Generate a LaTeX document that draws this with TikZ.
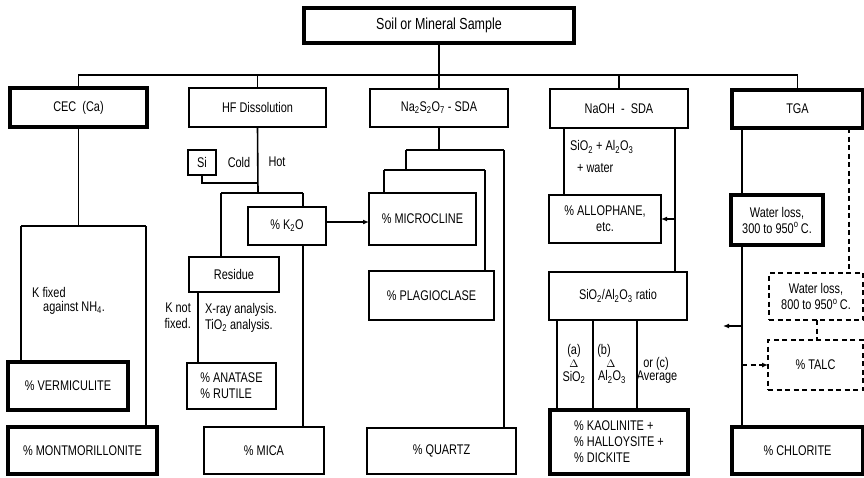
\documentclass[tikz,border=0pt]{standalone}
\usepackage{fontspec}
\setmainfont{Liberation Sans}[FakeStretch=0.78]
\usetikzlibrary{arrows.meta}
\newcommand\sub[1]{\textsubscript{#1}}
\newcommand\boxnode[7]{\node[#1, minimum width={#4-#2}, minimum height={#5-#3}] (#6) at ({(#2+#4)/2},{(#3+#5)/2}) {#7};}
\tikzset{
  txt/.style={font=\fontsize{14}{16}\selectfont},
  base/.style={draw, txt, inner sep=1pt, outer sep=0pt, align=center},
  lightbox/.style={base, line width=1.6pt},
  heavybox/.style={base, line width=3.2pt},
  dashbox/.style={base, line width=1.6pt, dash pattern=on 5pt off 3.5pt},
  conn/.style={line width=1.6pt},
  dashconn/.style={line width=1.6pt, dash pattern=on 5pt off 3.5pt},
  arr/.style={conn, -{Latex[length=6pt,width=5pt]}},
  dasharr/.style={dashconn, -{Latex[length=6pt,width=5pt]}},
  lbl/.style={txt, inner sep=0pt}
}
\begin{document}
\begin{tikzpicture}[x=1pt,y=-1pt]
\useasboundingbox (0,0) rectangle (864,477);
% level 1
\boxnode{heavybox,font=\fontsize{16}{18}\selectfont}{304}{8}{574}{43}{soil}{Soil or Mineral Sample}
% level 2
\boxnode{heavybox}{10}{88}{147}{127}{cec}{CEC\ \ (Ca)}
\boxnode{lightbox}{189}{88}{326}{127}{hf}{HF Dissolution}
\boxnode{lightbox}{370}{89}{508}{127}{nas}{Na\sub{2}S\sub{2}O\sub{7} - SDA}
\boxnode{lightbox}{550}{89}{688}{128}{naoh}{NaOH\ \ -\ \ SDA}
\boxnode{heavybox}{732}{90}{863}{128}{tga}{TGA}
% CEC column
\boxnode{heavybox}{8}{362}{128}{410}{verm}{\% VERMICULITE}
\boxnode{heavybox}{8}{427}{157}{474}{mont}{\% MONTMORILLONITE}
% HF column
\boxnode{lightbox,line width=2pt,inner sep=0pt}{188}{150}{216}{175}{si}{Si}
\boxnode{lightbox}{248}{207}{326}{245}{k2o}{\% K\sub{2}O}
\boxnode{lightbox}{189}{257}{279}{292}{res}{Residue}
\boxnode{lightbox,align=left}{187}{363}{276}{409}{anat}{\% ANATASE\\\% RUTILE}
\boxnode{lightbox}{204}{427}{324}{474}{mica}{\% MICA}
% Na2S2O7 column
\boxnode{lightbox}{369}{193}{476}{245}{micro}{\% MICROCLINE}
\boxnode{lightbox}{369}{271}{494}{320}{plag}{\% PLAGIOCLASE}
\boxnode{lightbox}{367}{428}{516}{474}{quartz}{\% QUARTZ}
% NaOH column
\boxnode{lightbox}{549}{195}{661}{243}{allo}{\% ALLOPHANE,\\etc.}
\boxnode{lightbox}{549}{272}{687}{320}{ratio}{SiO\sub{2}/Al\sub{2}O\sub{3} ratio}
\boxnode{heavybox,align=left}{550}{410}{688}{474}{kao}{\% KAOLINITE +\\\% HALLOYSITE +\\\% DICKITE}
% TGA column
\boxnode{heavybox}{731}{195}{823}{245}{wl1}{Water loss,\\300 to 950\textsuperscript{o}\,C.}
\boxnode{dashbox}{769}{273}{863}{320}{wl2}{Water loss,\\800 to 950\textsuperscript{o}\,C.}
\boxnode{dashbox}{768}{340}{863}{390}{talc}{\% TALC}
\boxnode{heavybox}{732}{427}{863}{474}{chlor}{\% CHLORITE}

% bus
\coordinate (bus) at (0,75);
\draw[conn] (cec.north) -- (cec.north |- bus) -- (tga.north |- bus) -- (tga.north);
\draw[conn] (hf.north) -- (hf.north |- bus);
\draw[conn] (naoh.north) -- (naoh.north |- bus);
\draw[conn] (soil.south) -- (nas.north);

% CEC fork
\coordinate (cfl) at (21,226);
\coordinate (cfr) at (146,226);
\draw[conn] (cec.south) -- (cec.south |- cfl);
\draw[conn] (cfl) -- (cfr);
\draw[conn] (cfl) -- (cfl |- verm.north);
\draw[conn] (cfr) -- (cfr |- mont.north);
\node[lbl, anchor=west] (lkf) at (32,292) {K fixed};
\node[lbl, anchor=west] (lag) at (43,308) {against NH\sub{4}.};
\node[lbl, anchor=east, align=right] (lkn) at (191,316) {K not\\fixed.};

% HF
\coordinate (hj1) at (258,183);
\coordinate (hj2) at (258,193);
\coordinate (hl) at (221,193);
\coordinate (hr) at (303,193);
\coordinate (rx) at (198,0);
\draw[conn] (hf.south) -- (hj2);
\draw[conn] (hj1) -| (si.south);
\draw[conn] (hl) -- (hr);
\draw[conn] (hr) -- (hr |- k2o.north);
\draw[conn] (hl) -- (hl |- res.north);
\draw[conn] (hr |- k2o.south) -- (hr |- mica.north);
\draw[conn] (rx |- res.south) -- (rx |- anat.north);
\node[lbl] (lcold) at (239,162) {Cold};
\node[lbl] (lhot) at (277,162) {Hot};
\node[lbl, anchor=west, align=left] (lxr) at (205,318) {X-ray analysis.\\TiO\sub{2} analysis.};

% Na2S2O7
\coordinate (n1) at (406,150);
\coordinate (n2) at (504,150);
\coordinate (n3) at (384,170);
\coordinate (n4) at (485,170);
\draw[conn] (nas.south) -- (nas.south |- n1);
\draw[conn] (n1) -- (n2);
\draw[conn] (n1) -- (n1 |- n3);
\draw[conn] (n3) -- (n4);
\draw[conn] (n3) -- (n3 |- micro.north);
\draw[conn] (n4) -- (n4 |- plag.north);
\draw[conn] (n2) -- (n2 |- quartz.north);
\coordinate (ay) at (0,222);
\draw[arr] (k2o.east |- ay) -- (micro.west |- ay);

% NaOH
\coordinate (o1) at (564,0);
\coordinate (o2) at (675,0);
\draw[conn] (o1 |- naoh.south) -- (o1 |- allo.north);
\draw[conn] (o2 |- naoh.south) -- (o2 |- ratio.north);
\draw[arr] (o2 |- allo.east) -- (allo.east);
\node[lbl, anchor=west] (lsa) at (570,147) {SiO\sub{2} + Al\sub{2}O\sub{3}};
\node[lbl, anchor=west] (lw) at (577,168) {+ water};
\foreach \x in {557,593,637} \draw[conn] (\x,0 |- ratio.south) -- (\x,0 |- kao.north);
\node[lbl] (la1) at (574,351) {(a)};
\node[lbl,font=\fontsize{11}{12}\selectfont] (la2) at (574,364) {$\Delta$};
\node[lbl] (la3) at (574,377) {SiO\sub{2}};
\node[lbl] (lb1) at (604,351) {(b)};
\node[lbl,font=\fontsize{11}{12}\selectfont] (lb2) at (611,364) {$\Delta$};
\node[lbl] (lb3) at (612,377) {Al\sub{2}O\sub{3}};
\node[lbl] (lc1) at (656,364) {or (c)};
\node[lbl] (lc2) at (657,377) {Average};

% TGA
\coordinate (t1) at (742,0);
\coordinate (t2) at (849,0);
\coordinate (t3) at (817,0);
\coordinate (tfree) at (723,326);
\draw[conn] (t1 |- tga.south) -- (t1 |- wl1.north);
\draw[dashconn] (t2 |- tga.south) -- (t2 |- wl2.north);
\draw[conn] (t1 |- wl1.south) -- (t1 |- chlor.north);
\draw[arr] (t1 |- tfree) -- (tfree);
\draw[dashconn] (t3 |- wl2.south) -- (t3 |- talc.north);
\draw[dasharr] (t1 |- talc.west) -- (talc.west);
\end{tikzpicture}
\end{document}
